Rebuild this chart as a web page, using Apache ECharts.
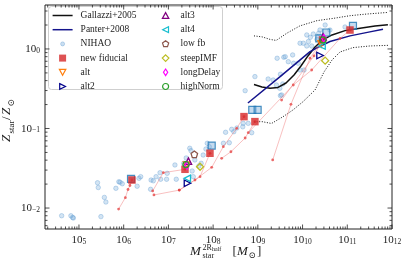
<!DOCTYPE html>
<html><head><meta charset="utf-8">
<script src="https://cdn.jsdelivr.net/npm/echarts@6/dist/echarts.min.js"></script>
<style>html,body{margin:0;padding:0;background:#fff;overflow:hidden}#chart{width:407px;height:265px}</style>
</head><body><div id="chart"></div>
<script>
// ---------------- data ----------------
const gallazziM = [8.2e8,1.24e9,1.87e9,2.83e9,4.27e9,6.44e9,9.2e9,1.32e10,1.9e10,2.72e10,4.56e10,8.9e10,1.93e11,4.17e11,8.1e11];
const gallazziZ = [0.357,0.333,0.320,0.328,0.373,0.471,0.611,0.817,1.06,1.28,1.50,1.70,1.82,1.94,2.02];
const gallazziHiM = [8.2e8,1.24e9,1.87e9,2.57e9,4.47e9,8.7e9,2.1e10,5.0e10,1.15e11,2.75e11,6.9e11,8.1e11];
const gallazziHiZ = [1.46,1.42,1.32,1.28,1.58,1.95,2.27,2.43,2.62,2.75,2.86,2.88];
const gallazziLoM = [8.2e8,1.24e9,2.02e9,3.66e9,6.1e9,1.02e10,1.9e10,3.02e10,4.56e10,6.9e10,1.34e11,3.2e11,8.1e11];
const gallazziLoZ = [0.121,0.122,0.1156,0.1407,0.171,0.217,0.305,0.514,0.727,0.917,1.04,1.09,1.11];
const panterM = [6.0e8,3.1e9,1.47e10,2.22e10,4.1e10,1.15e11,3.2e11,6.3e11];
const panterZ = [0.209,0.445,0.925,1.05,1.24,1.46,1.64,1.77];

const nihaoM = [4.1e4,6.6e4,7.2e4,7.5e4,2.6e5,2.7e5,3.7e5,4.0e5,3.1e5,6.7e5,7.8e5,8.3e5,9.3e5,2.0e6,2.2e6,2.4e6,4.1e6,4.6e6,4.0e6,5.3e6,6.5e6,6.7e6,9.4e6,9.1e6,1.4e7,1.5e7,2.2e7,3.0e7,3.2e7,2.5e7,3.4e7,4.8e7,3.9e7,5.4e7,6.0e7,3.6e7,7.4e7,8.2e7,6.9e7,1.7e8,2.3e8,1.9e8,2.6e8,2.9e8,3.4e8,4.7e8,6.1e8,7.3e8,4.6e8,5.2e8,1.7e9,2.2e9,3.2e9,3.6e9,2.6e9,3.1e9,3.2e9,4.8e9,8.8e9,1.08e10,3.8e9,6.0e9,8.8e9,1.04e10,1.24e10,1.35e10,1.6e10,1.24e10,1.74e10,3.2e10,2.45e10,4.1e10,2.3e10,8.9e10,2.1e10,1.49e10,4.1e9,6.3e9,2.7e9,8.6e8,8.0e9,3.4e9];
const nihaoZ = [0.0080,0.0080,0.0076,0.0075,0.0208,0.0181,0.0136,0.0119,0.0078,0.0177,0.0214,0.0211,0.0202,0.0188,0.0236,0.0248,0.0225,0.0220,0.0172,0.0248,0.0278,0.0230,0.0273,0.0230,0.0348,0.0230,0.0365,0.0564,0.0526,0.0426,0.0292,0.0338,0.0402,0.0365,0.0464,0.0248,0.0652,0.0591,0.0552,0.0652,0.0662,0.0896,0.0977,0.0912,0.1014,0.116,0.116,0.0886,0.105,0.299,0.419,0.407,0.481,0.363,0.352,0.320,0.259,0.692,0.544,0.544,0.787,0.841,1.18,1.18,1.09,1.24,1.09,1.50,1.54,2.00,1.73,1.73,1.58,1.89,1.32,1.40,0.80,0.661,0.764,0.449,0.661,0.264];

const blueSqM = [1.46e6,9.3e7,7.5e8,9.9e8,2.37e10,3.4e10,1.34e11];
const blueSqZ = [0.0232,0.0608,0.171,0.171,1.36,1.61,1.95];

const fiducialM = [1.53e6,2.35e7,8.5e7,4.9e8,8.6e8,2.8e10,1.15e11];
const fiducialZ = [0.0225,0.0307,0.0488,0.141,0.122,1.30,1.73];

const track1M = [7.7e5,1.09e6,1.25e6,1.38e6,1.53e6];
const track1Z = [0.0097,0.0135,0.0171,0.0192,0.0225];
const track2M = [4.45e6,7.7e6,2.35e7];
const track2Z = [0.0164,0.0278,0.0307];
const track3M = [4.75e6,1.75e7,5.1e7,8.5e7];
const track3Z = [0.0146,0.0168,0.0248,0.0488];
const track4M = [1.75e7,3.93e7,9.3e7,1.69e8,3.37e8,4.9e8];
const track4Z = [0.0168,0.0225,0.0325,0.059,0.1006,0.141];
const track5M = [1.55e8,2.5e8,5.2e8,8.6e8];
const track5Z = [0.0422,0.051,0.076,0.122];
const track6M = [2.15e9,5.5e9,1.47e10,2.8e10];
const track6Z = [0.0402,0.2015,0.764,1.30];
const track7M = [6.1e8,6.2e9,1.6e10,6.9e10,1.15e11];
const track7Z = [0.0886,0.352,0.544,1.36,1.73];
const track8M = [3.4e9,1.8e10,2.8e10];
const track8Z = [0.228,0.817,1.30];

const altM = [2.54e7,2.6e10],      altZ = [0.0347,1.156];
const alt2M = [2.67e7,2.46e10],    alt2Z = [0.0205,0.828];
const alt3M = [2.8e7,2.87e10],     alt3Z = [0.0389,1.42];
const alt4M = [2.64e7,2.72e10],    alt4Z = [0.0236,1.09];
const lowfbM = [3.8e7],            lowfbZ = [0.0473];
const steepM = [5.1e7,3.2e10],     steepZ = [0.033,0.713];
const longDelayM = [2.6e7,3.0e10], longDelayZ = [0.0343,1.36];
const highNormM = [2.47e7,2.86e10],highNormZ = [0.0352,1.30];

const xMin = 17400, xMax = 1e12, yMin = 0.00545, yMax = 3.57;

// ---------------- helpers ----------------
const pairs = (a, b) => a.map((v, i) => [v, b[i]]);
const serif = "'Liberation Serif','DejaVu Serif',serif";
const ink = '#222';

function fmt(v) {
  const l = Math.log10(v), e = Math.round(l);
  if (Math.abs(l - e) > 1e-6) return '';
  return '{b|10}{s|' + (e < 0 ? '\u2212' + (-e) : e) + '}';
}
const tickRich = {
  b: {fontFamily: serif, fontSize: 11, lineHeight: 12, verticalAlign: 'bottom', color: ink},
  s: {fontFamily: serif, fontSize: 7.5, lineHeight: 22, verticalAlign: 'bottom', color: ink}
};

function tickData() {
  const d = [];
  for (let e = 4; e <= 12; e++) for (let m = 1; m <= 9; m++) {
    const v = m * Math.pow(10, e);
    if (v >= xMin && v <= xMax * 1.0001) d.push([v, 0.1, m === 1 ? 0 : 1]);
  }
  for (let e = -3; e <= 0; e++) for (let m = 1; m <= 9; m++) {
    const v = m * Math.pow(10, e);
    if (v >= yMin && v <= yMax) d.push([1e8, v, m === 1 ? 2 : 3]);
  }
  return d;
}

const PENT = 'path://M0,-1L0.951,-0.309L0.588,0.809L-0.588,0.809L-0.951,-0.309Z';
const THIND = 'path://M0,-1L0.6,0L0,1L-0.6,0Z';
// legend icons drawn in a fixed 20x7 box (corners fixed by zero-length segments)
const BOX = 'path://M0,0L0,0M20,7L20,7';
const IC = {
  line: BOX + 'M0,2.75L20,2.75L20,4.25L0,4.25Z',
  dot: BOX + 'M12,3.5A2,2,0,1,1,8,3.5A2,2,0,1,1,12,3.5Z',
  sq: BOX + 'M6.5,0L13.5,0L13.5,7L6.5,7Z',
  down: BOX + 'M6.8,0.6L13.2,0.6L10,6.4Z',
  right: BOX + 'M7.1,0.6L12.9,3.5L7.1,6.4Z',
  up: BOX + 'M10,0.6L13.2,6.4L6.8,6.4Z',
  left: BOX + 'M12.9,0.6L12.9,6.4L7.1,3.5Z',
  pent: BOX + 'M10,0.3L13.1,2.5L11.9,6.2L8.1,6.2L6.9,2.5Z',
  dia: BOX + 'M10,0.2L13.3,3.5L10,6.8L6.7,3.5Z',
  thin: BOX + 'M10,0.2L12.1,3.5L10,6.8L7.9,3.5Z',
  circ: BOX + 'M13,3.5A3,3,0,1,1,7,3.5A3,3,0,1,1,13,3.5Z'
};
const hollowStyle = c => ({color: 'rgba(255,255,255,0)', borderColor: c, borderWidth: 1.2});

function hollow(name, M, Z, color, symbol, size, rot) {
  return {
    name, type: 'scatter', data: pairs(M, Z), symbol, symbolSize: size, symbolRotate: rot || 0, z: 7,
    itemStyle: {color: 'rgba(255,255,255,0)', borderColor: color, borderWidth: 1.3, opacity: 1}
  };
}
function track(M, Z) {
  return {
    type: 'line', data: pairs(M, Z), z: 4, symbol: 'circle', symbolSize: 2.8, showSymbol: true,
    lineStyle: {color: 'rgba(240,110,110,0.55)', width: 0.8},
    itemStyle: {color: 'rgba(228,60,60,0.75)', borderWidth: 0}, silent: true
  };
}
function txt(x, y, s, size, italic, rot) {
  return {type: 'text', x, y, rotation: rot || 0, z: 5, silent: true,
    style: {text: s, fontFamily: serif, fontSize: size, fontStyle: italic ? 'italic' : 'normal', fill: ink,
            align: 'left', verticalAlign: 'middle'}};
}
const R = Math.PI / 2;

const legendText = {fontFamily: serif, fontSize: 9.5, color: ink, lineHeight: 9};
const chart = echarts.init(document.getElementById('chart'), null, {renderer: 'canvas'});
const option = {
  animation: false,
  backgroundColor: '#fff',
  grid: {left: 45, right: 15, top: 5, bottom: 36, show: true, borderColor: ink, borderWidth: 1,
         backgroundColor: 'transparent', containLabel: false, outerBoundsMode: 'none'},
  xAxis: {type: 'log', logBase: 10, min: xMin, max: xMax,
    axisLine: {show: false}, axisTick: {show: false}, splitLine: {show: false}, minorTick: {show: false},
    axisLabel: {formatter: fmt, margin: -5, rich: tickRich}},
  yAxis: {type: 'log', logBase: 10, min: yMin, max: yMax,
    axisLine: {show: false}, axisTick: {show: false}, splitLine: {show: false}, minorTick: {show: false},
    axisLabel: {formatter: fmt, margin: 5, padding: [0, 0, 10, 0], rich: tickRich}},
  legend: [
    {left: 52, top: 10.5, orient: 'vertical', itemWidth: 20, itemHeight: 7, itemGap: 4.2, padding: 0,
     selectedMode: false, z: 5, symbolRotate: 0, symbolKeepAspect: true,
     textStyle: Object.assign({padding: [0, 0, 0, 3]}, legendText),
     data: [{name: 'Gallazzi+2005', icon: IC.line, itemStyle: {color: '#111', borderWidth: 0}},
            {name: 'Panter+2008', icon: IC.line, itemStyle: {color: '#14148c', borderWidth: 0}},
            {name: 'NIHAO', icon: IC.dot, itemStyle: {color: 'rgba(125,175,220,0.5)', borderColor: 'rgba(80,145,205,0.55)', borderWidth: 0.8}},
            {name: 'new fiducial', icon: IC.sq, itemStyle: {color: '#d62728', borderWidth: 0}},
            {name: 'alt', icon: IC.down, itemStyle: hollowStyle('#ff7f0e')},
            {name: 'alt2', icon: IC.right, itemStyle: hollowStyle('#00008b')}]},
    {left: 155, top: 10.5, orient: 'vertical', itemWidth: 20, itemHeight: 7, itemGap: 4.2, padding: 0,
     selectedMode: false, z: 5, symbolRotate: 0, symbolKeepAspect: true,
     textStyle: legendText,
     data: [{name: 'alt3', icon: IC.up, itemStyle: hollowStyle('#800080')},
            {name: 'alt4', icon: IC.left, itemStyle: hollowStyle('#17becf')},
            {name: 'low fb', icon: IC.pent, itemStyle: hollowStyle('#8c564b')},
            {name: 'steepIMF', icon: IC.dia, itemStyle: hollowStyle('#bcbd22')},
            {name: 'longDelay', icon: IC.thin, itemStyle: hollowStyle('#ff00ff')},
            {name: 'highNorm', icon: IC.circ, itemStyle: hollowStyle('#2ca02c')}]}
  ],
  graphic: [
    {type: 'rect', z: 3, silent: true, shape: {x: 48.5, y: 6.5, width: 174, height: 83, r: 3},
     style: {fill: 'rgba(255,255,255,0.8)', stroke: '#cfcfcf', lineWidth: 1}},
    // y-axis title  Z_star / Z_sun  (rotated, reading upwards)
    txt(7, 142, 'Z', 13, true, R),
    txt(11.5, 133.5, 'star', 9, false, R),
    txt(7, 120, '/', 13, false, R),
    txt(7, 115, 'Z', 13, true, R),
    txt(11.5, 106.5, '\u2299', 9, false, R),
    // x-axis title  M_star^{2R_half} [M_sun]
    txt(190, 252, 'M', 13, true),
    txt(202.5, 247.5, '2R', 8),
    txt(212, 249.5, 'half', 6),
    txt(202.5, 256, 'star', 8),
    txt(232.5, 251.5, '[', 13),
    txt(237, 252, 'M', 13, true),
    txt(248.5, 256, '\u2299', 8.5),
    txt(257, 251.5, ']', 13)
  ],
  series: [
    {name: 'NIHAO', type: 'scatter', data: pairs(nihaoM, nihaoZ), symbol: 'circle', symbolSize: 4.5, z: 2,
     itemStyle: {color: 'rgba(125,175,220,0.42)', borderColor: 'rgba(80,145,205,0.5)', borderWidth: 0.8}},
    {name: 'Gallazzi+2005', type: 'line', data: pairs(gallazziM, gallazziZ), symbol: 'none', z: 3, smooth: false,
     lineStyle: {color: '#111', width: 1.5}, itemStyle: {color: '#111'}},
    {name: 'gHi', type: 'line', data: pairs(gallazziHiM, gallazziHiZ), symbol: 'none', z: 3,
     lineStyle: {color: '#111', width: 1, type: [1, 1.6]}},
    {name: 'gLo', type: 'line', data: pairs(gallazziLoM, gallazziLoZ), symbol: 'none', z: 3,
     lineStyle: {color: '#111', width: 1, type: [1, 1.6]}},
    {name: 'Panter+2008', type: 'line', data: pairs(panterM, panterZ), symbol: 'none', z: 3,
     lineStyle: {color: '#14148c', width: 1.5}, itemStyle: {color: '#14148c'}},
    track(track1M, track1Z), track(track2M, track2Z), track(track3M, track3Z), track(track4M, track4Z),
    track(track5M, track5Z), track(track6M, track6Z), track(track7M, track7Z), track(track8M, track8Z),
    {name: 'blueSq', type: 'scatter', data: pairs(blueSqM, blueSqZ), symbol: 'rect', symbolSize: 7, z: 5,
     itemStyle: {color: 'rgba(110,165,215,0.5)', borderColor: '#1f77b4', borderWidth: 1.2}},
    {name: 'new fiducial', type: 'scatter', data: pairs(fiducialM, fiducialZ), symbol: 'rect', symbolSize: 7.5, z: 6,
     itemStyle: {color: '#d62728'}},
    hollow('alt', altM, altZ, '#ff7f0e', 'triangle', 6.5, 180),
    hollow('alt2', alt2M, alt2Z, '#00008b', 'triangle', 6.5, -90),
    hollow('alt3', alt3M, alt3Z, '#800080', 'triangle', 6.5, 0),
    hollow('alt4', alt4M, alt4Z, '#17becf', 'triangle', 6.5, 90),
    hollow('low fb', lowfbM, lowfbZ, '#8c564b', PENT, 6.5),
    hollow('steepIMF', steepM, steepZ, '#bcbd22', 'diamond', 7),
    hollow('longDelay', longDelayM, longDelayZ, '#ff00ff', THIND, [4.5, 7.5]),
    hollow('highNorm', highNormM, highNormZ, '#2ca02c', 'circle', 6),
    {name: 'ticks', type: 'custom', data: tickData(), encode: {x: 0, y: 1}, z: 10, silent: true, clip: false,
     renderItem: function (params, api) {
       const cs = params.coordSys;
       const k = api.value(2);
       const p = api.coord([api.value(0), api.value(1)]);
       const L = (k === 0 || k === 2) ? 4.5 : 2.5;
       const st = {stroke: ink, lineWidth: 0.8};
       if (k < 2) {
         const x = p[0];
         return {type: 'group', children: [
           {type: 'line', shape: {x1: x, y1: cs.y + cs.height, x2: x, y2: cs.y + cs.height - L}, style: st},
           {type: 'line', shape: {x1: x, y1: cs.y, x2: x, y2: cs.y + L}, style: st}]};
       }
       const y = p[1];
       return {type: 'group', children: [
         {type: 'line', shape: {x1: cs.x, y1: y, x2: cs.x + L, y2: y}, style: st},
         {type: 'line', shape: {x1: cs.x + cs.width, y1: y, x2: cs.x + cs.width - L, y2: y}, style: st}]};
     }}
  ]
};
chart.setOption(option);
</script>
</body></html>
